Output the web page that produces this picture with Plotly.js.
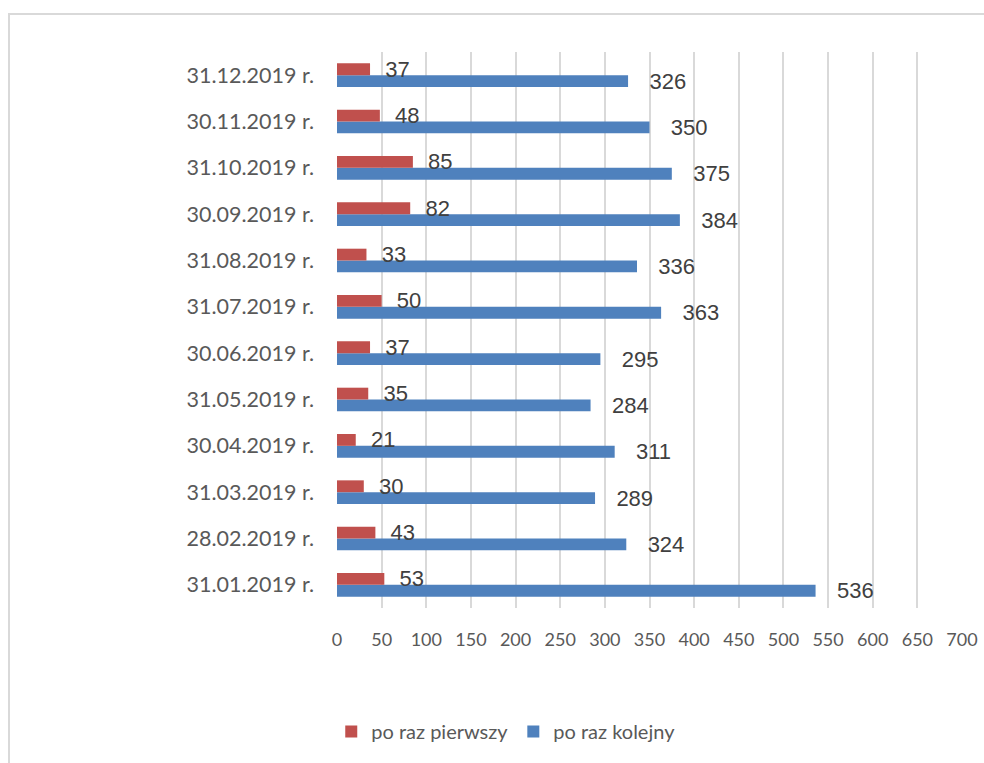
<!DOCTYPE html>
<html>
<head>
<meta charset="utf-8">
<script src="https://cdn.plot.ly/plotly-3.0.1.min.js"></script>
<style>
  body { margin: 0; background: #fff; }
  #chart { width: 984px; height: 763px; }
  #frame { position: absolute; left: 8px; top: 13px; width: 976px; height: 750px;
           border-left: 2px solid #d9d9d9; border-top: 2px solid #d9d9d9; pointer-events: none; }
</style>
</head>
<body>
<div id="chart"></div>
<div id="frame"></div>
<script>
// dates (bottom to top as in the chart)
var dates = ["31.01.2019 r.", "28.02.2019 r.", "31.03.2019 r.", "30.04.2019 r.",
             "31.05.2019 r.", "30.06.2019 r.", "31.07.2019 r.", "31.08.2019 r.",
             "30.09.2019 r.", "31.10.2019 r.", "30.11.2019 r.", "31.12.2019 r."];

// values per series
var pierwszy = [53, 43, 30, 21, 35, 37, 50, 33, 82, 85, 48, 37];
var kolejny = [536, 324, 289, 311, 284, 295, 363, 336, 384, 375, 350, 326];

var labelFont = {family: 'Liberation Sans, Arial, sans-serif', size: 22, color: '#404040'};

// blue first so that red sits above it in each group
var traceKolejny = {
    type: 'bar',
    orientation: 'h',
    name: 'po raz kolejny',
    y: dates,
    x: kolejny,
    marker: {color: '#4f81bd'},
    text: kolejny.map(function(v){ return '\u00a0\u00a0\u00a0' + v; }),
    textposition: 'outside',
    textfont: labelFont,
    cliponaxis: false,
    hoverinfo: 'x+name'
};

var traceFirst = {
    type: 'bar',
    orientation: 'h',
    name: 'po raz pierwszy',
    y: dates,
    x: pierwszy,
    marker: {color: '#c0504d'},
    text: pierwszy.map(function(v){ return '\u00a0\u00a0' + v; }),
    textposition: 'outside',
    textfont: labelFont,
    cliponaxis: false,
    hoverinfo: 'x+name'
};

var layout = {
    width: 984,
    height: 763,
    margin: {l: 337, r: 22, t: 52, b: 152},
    barmode: 'group',
    bargap: 0.49,
    bargroupgap: 0,
    paper_bgcolor: '#ffffff',
    plot_bgcolor: '#ffffff',
    font: {family: 'Lato, sans-serif', color: '#595959'},
    xaxis: {
        range: [0, 700],
        dtick: 50,
        tick0: 0,
        showgrid: true,
        gridcolor: '#d9d9d9',
        gridwidth: 2,
        zeroline: false,
        ticks: '',
        ticklabelstandoff: 19,
        tickfont: {family: 'Lato, sans-serif', size: 18, color: '#595959'},
        fixedrange: true
    },
    yaxis: {
        type: 'category',
        showgrid: false,
        zeroline: false,
        ticks: '',
        ticklabelstandoff: 22,
        tickfont: {family: 'Lato, sans-serif', size: 21.5, color: '#595959'},
        fixedrange: true
    },
    showlegend: true,
    legend: {
        orientation: 'h',
        traceorder: 'reversed',
        xanchor: 'center',
        yanchor: 'middle',
        x: 0.27,
        y: -0.222,
        font: {family: 'Lato, sans-serif', size: 20, color: '#595959'},
        itemwidth: 30
    }
};

var data = [traceKolejny, traceFirst];
Plotly.newPlot('chart', data, layout, {displayModeBar: false});
// keep outside labels at full size
Plotly.restyle('chart', {constraintext: 'none'});
</script>
</body>
</html>
